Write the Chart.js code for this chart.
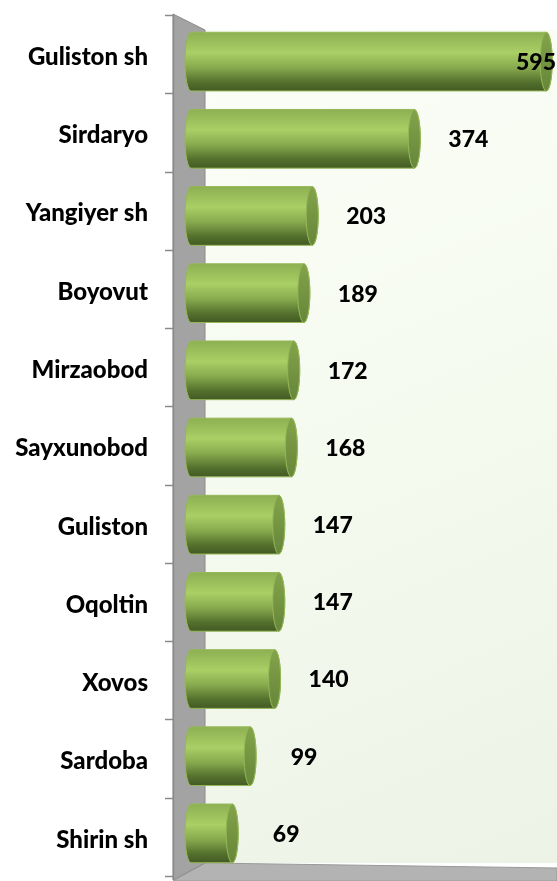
<!DOCTYPE html>
<html>
<head>
<meta charset="utf-8">
<script src="https://cdn.jsdelivr.net/npm/chart.js@4.4.1/dist/chart.umd.min.js"></script>
<style>
  html, body { margin: 0; padding: 0; background: #ffffff; }
  #wrap { width: 557px; height: 881px; }
</style>
</head>
<body>
<div id="wrap"><canvas id="chart" width="557" height="881"></canvas></div>
<script>
const categories = [
  "Guliston sh", "Sirdaryo", "Yangiyer sh", "Boyovut", "Mirzaobod",
  "Sayxunobod", "Guliston", "Oqoltin", "Xovos", "Sardoba", "Shirin sh"
];
const amounts = [595, 374, 203, 189, 172, 168, 147, 147, 140, 99, 69];

// back wall, side wall and floor of the 3D box
const boxPlugin = {
  id: "box3d",
  beforeDatasetsDraw(chart) {
    const { ctx, chartArea } = chart;
    const left = chartArea.left;
    const wx0 = left - 18, wx1 = left + 14;
    const top = chartArea.top, bottom = chartArea.bottom;
    const W = chart.width, H = chart.height;
    ctx.save();

    // back panel
    const bg = ctx.createLinearGradient(wx1, top, W, bottom);
    bg.addColorStop(0, "#fbfef7");
    bg.addColorStop(0.5, "#f5faef");
    bg.addColorStop(1, "#edf2e7");
    ctx.fillStyle = bg;
    ctx.fillRect(wx1, top + 12, W - wx1, bottom - top - 28);

    // floor
    ctx.beginPath();
    ctx.moveTo(wx1, bottom - 16);
    ctx.lineTo(W, bottom - 11);
    ctx.lineTo(W, H);
    ctx.lineTo(wx0, H);
    ctx.closePath();
    ctx.fillStyle = "#b3b3b3";
    ctx.fill();
    ctx.strokeStyle = "#9a9a9a";
    ctx.lineWidth = 1;
    ctx.stroke();

    // side wall
    ctx.beginPath();
    ctx.moveTo(wx0, top - 4);
    ctx.lineTo(wx1, top + 12);
    ctx.lineTo(wx1, bottom - 16);
    ctx.lineTo(wx0, bottom + 1);
    ctx.closePath();
    ctx.fillStyle = "#a3a3a3";
    ctx.fill();
    ctx.strokeStyle = "#8a8a8a";
    ctx.stroke();

    // tick marks on the wall edge
    const n = categories.length;
    const band = (bottom - top) / n;
    ctx.strokeStyle = "#8a8a8a";
    ctx.lineWidth = 1.5;
    for (let i = 0; i <= n; i++) {
      const y = Math.round(top - 3 + i * band) + 0.5;
      ctx.beginPath();
      ctx.moveTo(wx0 - 8, y);
      ctx.lineTo(wx0, y);
      ctx.stroke();
    }
    ctx.beginPath();
    ctx.moveTo(wx0 + 0.5, top - 4);
    ctx.lineTo(wx0 + 0.5, bottom + 1);
    ctx.stroke();
    ctx.restore();
  },

  // cylinders and value labels
  afterDatasetsDraw(chart) {
    const { ctx, chartArea } = chart;
    const meta = chart.getDatasetMeta(0);
    const rx = 6;
    // slight perspective: bars sit a little closer together than the labels
    const midY = (chartArea.top + chartArea.bottom) / 2;
    ctx.save();
    meta.data.forEach((bar, i) => {
      const p = bar.getProps(["x", "y", "base", "height"], true);
      const x0 = p.base, x1 = p.x, ry = p.height / 2;
      const yc = midY - 1 + (p.y - midY) * 0.986;
      const t = yc - ry, b = yc + ry;

      const g = ctx.createLinearGradient(0, t, 0, b);
      g.addColorStop(0, "#8db052");
      g.addColorStop(0.35, "#a9cf65");
      g.addColorStop(0.6, "#88aa4e");
      g.addColorStop(0.85, "#54702d");
      g.addColorStop(1, "#435a24");

      ctx.beginPath();
      ctx.moveTo(x0, t);
      ctx.lineTo(x1, t);
      ctx.ellipse(x1, yc, rx, ry, 0, -Math.PI / 2, Math.PI / 2);
      ctx.lineTo(x0, b);
      ctx.ellipse(x0, yc, rx, ry, 0, Math.PI / 2, Math.PI * 1.5);
      ctx.closePath();
      ctx.fillStyle = g;
      ctx.fill();
      ctx.strokeStyle = "#95b858";
      ctx.lineWidth = 1;
      ctx.stroke();

      const f = ctx.createLinearGradient(0, t, 0, b);
      f.addColorStop(0, "#83a34a");
      f.addColorStop(1, "#66863a");
      ctx.beginPath();
      ctx.ellipse(x1, yc, rx, ry, 0, 0, Math.PI * 2);
      ctx.fillStyle = f;
      ctx.fill();
      ctx.strokeStyle = "#95b858";
      ctx.stroke();

      // value label
      ctx.font = "900 23px Lato";
      ctx.fillStyle = "#000000";
      ctx.textAlign = "center";
      ctx.textBaseline = "middle";
      const txt = String(amounts[i]);
      const tw = ctx.measureText(txt).width;
      let cx = x1 + rx + 48;
      if (cx + tw / 2 > chart.width - 1) cx = chart.width - 1 - tw / 2;
      ctx.fillText(txt, cx, yc + 1);
    });
    ctx.restore();
  }
};

new Chart(document.getElementById("chart"), {
  type: "bar",
  data: {
    labels: categories,
    datasets: [{
      label: "amount",
      data: amounts,
      backgroundColor: "rgba(0,0,0,0)",
      borderWidth: 0,
      barPercentage: 0.75,
      categoryPercentage: 1
    }]
  },
  options: {
    indexAxis: "y",
    responsive: false,
    animation: false,
    devicePixelRatio: 1,
    layout: { padding: { top: 18, bottom: 2, left: 0, right: 0 } },
    plugins: { legend: { display: false }, tooltip: { enabled: false } },
    scales: {
      x: { display: false, min: 0, max: 613 },
      y: {
        grid: { display: false, drawTicks: false, tickLength: 0 },
        border: { display: false },
        ticks: {
          color: "#000000",
          font: { family: "Lato", size: 24, weight: "900" },
          padding: 43
        },
        afterFit(scale) {
          scale.width = 191;
          scale.paddingTop = 0;
          scale.paddingBottom = 0;
        }
      }
    }
  },
  plugins: [boxPlugin]
});
</script>
</body>
</html>
